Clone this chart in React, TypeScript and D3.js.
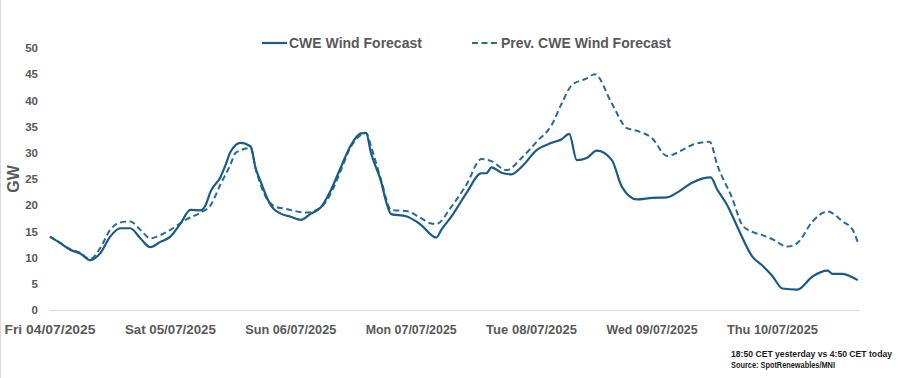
import React from "react";
import * as d3 from "d3";

// hours since Fri 04/07/2025 00:00
const cweHours = [0, 2, 4, 6, 8, 10, 12, 14, 16, 18, 20, 22, 24, 26, 28, 30, 31, 32, 34, 35, 36, 38, 40, 41, 42, 43, 44, 46, 48, 50, 52, 54, 56, 58, 60, 62, 63, 64, 66, 67, 68, 71, 73, 74, 77, 78, 80, 83, 86, 87, 88, 90, 92, 94, 97, 100, 102, 103.5, 105, 107, 109, 112, 114, 117, 120, 123, 125, 128, 131.7, 133, 135, 137, 140, 142, 144, 146, 149, 152, 155, 156, 158, 160, 161];
const cweValues = [14.0, 12.8, 11.5, 10.8, 9.5, 10.8, 14.0, 15.6, 15.6, 13.7, 12.0, 13.0, 14.0, 16.5, 19.1, 19.0, 20.0, 22.6, 25.4, 27.7, 30.2, 31.9, 31.2, 27.0, 24.5, 22.0, 20.0, 18.4, 17.8, 17.2, 18.4, 19.6, 22.9, 27.3, 31.5, 33.7, 33.8, 29.9, 24.5, 20.7, 18.3, 17.9, 16.9, 16.2, 13.8, 15.3, 17.8, 22.3, 26.1, 26.1, 27.2, 26.2, 25.9, 27.3, 30.5, 31.9, 32.6, 33.6, 28.6, 29.0, 30.4, 28.6, 23.5, 21.1, 21.4, 21.5, 22.4, 24.3, 25.3, 23.0, 20.0, 15.9, 10.2, 8.5, 6.5, 4.1, 3.9, 6.4, 7.5, 6.9, 6.9, 6.2, 5.7];

const prevHours = [0, 2, 4, 6, 8, 10, 12, 14, 16, 18, 20, 22, 24, 27, 30, 32, 34, 36, 37, 40, 41, 43, 45, 47, 51, 54, 56, 58, 60, 62, 63, 64, 66, 68, 71, 74, 76, 77, 80, 83, 86, 88, 91, 94, 97, 100, 102, 104, 107, 108.6, 112, 115, 117, 120, 123, 126, 128, 131.5, 133, 136, 138, 140, 142, 144, 147, 149, 152, 155, 158, 160, 161];
const prevValues = [14.0, 12.8, 11.6, 10.9, 9.7, 11.8, 15.3, 16.7, 16.9, 15.3, 13.7, 14.3, 15.3, 17.2, 18.6, 20.0, 24.0, 27.8, 30.0, 30.9, 27.0, 21.6, 19.7, 19.3, 18.6, 19.6, 22.3, 26.7, 31.2, 33.4, 33.8, 31.2, 24.8, 19.1, 18.9, 17.5, 16.5, 16.4, 19.7, 23.9, 28.8, 28.4, 26.7, 29.0, 32.1, 35.3, 39.4, 42.9, 44.2, 45.0, 39.4, 34.7, 34.2, 32.8, 29.4, 30.5, 31.5, 32.1, 27.7, 21.3, 16.2, 14.9, 14.3, 13.5, 12.1, 12.8, 16.9, 18.8, 16.9, 15.3, 13.0];

const dayLabels = ["Fri 04/07/2025", "Sat 05/07/2025", "Sun 06/07/2025", "Mon 07/07/2025", "Tue 08/07/2025", "Wed 09/07/2025", "Thu 10/07/2025"];
const yTicks = [0, 5, 10, 15, 20, 25, 30, 35, 40, 45, 50];
const seriesNames = ["CWE Wind Forecast", "Prev. CWE Wind Forecast"];
const noteLines = ["18:50 CET yesterday vs  4:50 CET today", "Source: SpotRenewables/MNI"];

const W = 907;
const H = 378;
const FONT = "'Liberation Sans', Arial, sans-serif";
const GREY = "#595959";
const SOLID = "#1b5c86";
const DASHED = "#2a6a9b";

export default function App() {
  const x = d3.scaleLinear().domain([0, 144]).range([50, 772.4]);
  const y = d3.scaleLinear().domain([0, 50]).range([310, 48]);

  const line = d3
    .line<[number, number]>()
    .x((d) => x(d[0]))
    .y((d) => y(d[1]))
    .curve(d3.curveMonotoneX);

  const cwe: [number, number][] = cweHours.map((h, i) => [h, cweValues[i]]);
  const prev: [number, number][] = prevHours.map((h, i) => [h, prevValues[i]]);

  return (
    <svg
      width={W}
      height={H}
      style={{ position: "absolute", left: 0, top: 0, background: "#fff" }}
      fontFamily={FONT}
    >
      <rect x={0} y={0} width={W} height={H} fill="#fff" />
      <line x1={0.5} y1={0} x2={0.5} y2={H} stroke="#d9d9d9" strokeWidth={1} />

      {/* Y axis labels */}
      {yTicks.map((t) => (
        <text
          key={t}
          x={38}
          y={y(t)}
          dy="0.36em"
          textAnchor="end"
          fontSize={11.5}
          fontWeight="bold"
          fill={GREY}
        >
          {t}
        </text>
      ))}
      <text
        transform={`translate(19,179) rotate(-90)`}
        textAnchor="middle"
        fontSize={16}
        fontWeight="bold"
        fill={GREY}
      >
        GW
      </text>

      {/* X axis line */}
      <line x1={50} y1={y(0) + 0.5} x2={860} y2={y(0) + 0.5} stroke="#d9d9d9" strokeWidth={1} />

      {/* X labels */}
      {dayLabels.map((lab, i) => (
        <text
          key={lab}
          x={x(i * 24)}
          y={334}
          textAnchor="middle"
          fontSize={12.5}
          fontWeight="bold"
          fill={GREY}
          textLength={91}
          lengthAdjust="spacingAndGlyphs"
        >
          {lab}
        </text>
      ))}

      {/* Series */}
      <path d={line(prev) || ""} fill="none" stroke={DASHED} strokeWidth={2} strokeDasharray="6 3.5" />
      <path d={line(cwe) || ""} fill="none" stroke={SOLID} strokeWidth={2.2} strokeLinejoin="round" />

      {/* Legend */}
      <line x1={262} y1={43} x2={287} y2={43} stroke={SOLID} strokeWidth={2.2} />
      <text x={289} y={48} fontSize={14} fontWeight="bold" fill={GREY}>
        {seriesNames[0]}
      </text>
      <line x1={472} y1={43} x2={498} y2={43} stroke={DASHED} strokeWidth={2} strokeDasharray="6 3.5" />
      <text x={501} y={48} fontSize={14} fontWeight="bold" fill={GREY}>
        {seriesNames[1]}
      </text>

      {/* Notes */}
      {noteLines.map((t, i) => (
        <text
          key={t}
          x={731}
          y={357 + i * 11}
          fontSize={9.5}
          fontWeight="bold"
          fill="#1a1a1a"
          textLength={i === 0 ? 161 : 104}
          lengthAdjust="spacingAndGlyphs"
        >
          {t}
        </text>
      ))}
    </svg>
  );
}
